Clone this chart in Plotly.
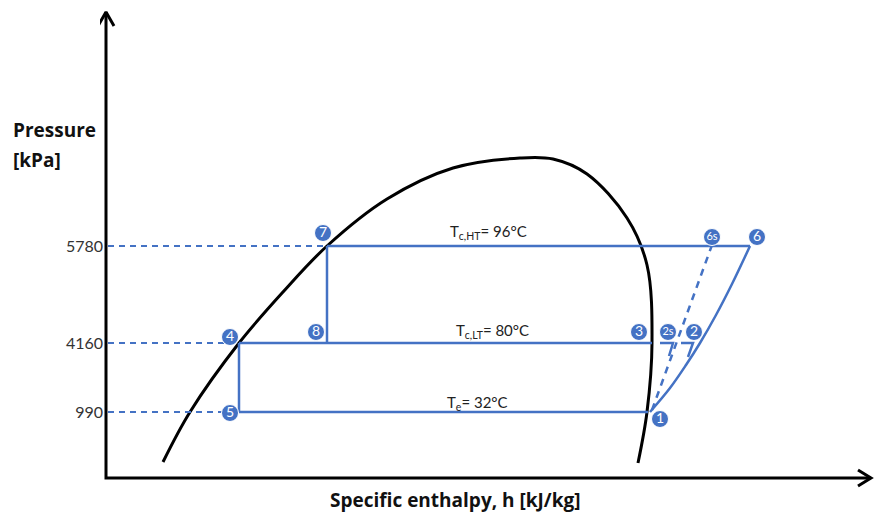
import plotly.graph_objects as go

# ---- schematic data (h in schematic units, p as schematic vertical position) ----
dome_h = [163, 190, 239, 283, 327, 387, 453, 520, 553, 587, 627, 647, 652, 647, 638]
dome_p = [55, 105, 174, 225, 271, 318, 349, 359, 358, 343, 299, 252, 174, 105, 54]

p_levels = [271, 174, 105]
p_ticks = ["5780", "4160", "990"]

# isobars (h start, h end)
iso_top = [327, 750]
iso_mid = [239, 652]
iso_low = [239, 648]

# vertical throttling lines
v78_h = [327, 327]
v45_h = [239, 239]

# compression 1 -> 6 (real) and 1 -> 6s (isentropic)
comp_h = [650, 670, 686, 700, 716, 732, 750]
comp_p = [105, 129, 152, 174, 202, 233, 271]
comps_h = [652, 712]
comps_p = [107, 272]

# small stubs at intermediate pressure (2s, 2)
stub2s_h = [660, 673, 669]
stub2s_p = [174, 174, 161]
stub2_h = [681, 693, 688]
stub2_p = [174, 174, 160]

# reference dashed lines from axis
ref_start = 108
ref_end = [327, 239, 229]

# axes (origin, ends)
axis_h = [106, 106, 871]
axis_p = [505, 39, 39]
arrow_up_h = [98, 106, 114]
arrow_up_p = [491, 505, 491]
arrow_right_h = [858, 871, 858]
arrow_right_p = [47, 39, 31]

# state points
state_lbl = ["7", "8", "4", "5", "3", "2s", "2", "1", "6s", "6"]
state_h = [323, 316, 230, 230, 639, 668, 694, 660, 712, 757]
state_p = [284, 185, 180, 104, 185, 185, 185, 98, 280, 280]

# isotherm labels
temp_text = ["T<sub>c,HT</sub>= 96°C", "T<sub>c,LT</sub>= 80°C", "T<sub>e</sub>= 32°C"]
temp_h = [488, 492, 477]
temp_p = [285, 186, 114]

BLUE = "#4472C4"
W, H = 877, 517
ML = 100
fig = go.Figure()

def line(x, y, color=BLUE, width=2, dash="solid", shape="linear"):
    fig.add_trace(go.Scatter(x=x, y=y, mode="lines", hoverinfo="skip",
                             line=dict(color=color, width=width, dash=dash, shape=shape)))

# axes with arrow heads
line(axis_h, axis_p, color="black", width=3)
line(arrow_up_h, arrow_up_p, color="black", width=3)
line(arrow_right_h, arrow_right_p, color="black", width=3)

# dome
line(dome_h, dome_p, color="black", width=3, shape="spline")

# reference dashed lines
for lv, e in zip(p_levels, ref_end):
    line([ref_start, e], [lv, lv], dash="6px,5px")

# cycle lines
line(iso_top, [p_levels[0]] * 2, width=2.5)
line(iso_mid, [p_levels[1]] * 2, width=2.5)
line(iso_low, [p_levels[2]] * 2, width=2.5)
line(v78_h, [p_levels[0], p_levels[1]], width=2.5)
line(v45_h, [p_levels[1], p_levels[2]], width=2.5)
line(comp_h, comp_p, width=2.5, shape="spline")
line(comps_h, comps_p, width=2.5, dash="7px,6px")
line(stub2s_h, stub2s_p, width=2.5)
line(stub2_h, stub2_p, width=2.5)

# state markers
sizes = [11 if len(s) > 1 else 14 for s in state_lbl]
fig.add_trace(go.Scatter(x=state_h, y=state_p, mode="markers+text", text=state_lbl,
                         textposition="middle center", hoverinfo="skip",
                         textfont=dict(color="white", size=sizes, family="Lato"),
                         marker=dict(size=17, color=BLUE, line=dict(color="white", width=1))))

# isotherm labels
for t, h, p in zip(temp_text, temp_h, temp_p):
    fig.add_annotation(x=h, y=p, text=t, showarrow=False,
                       font=dict(family="Lato", size=15, color="#222"))

# axis titles (paper coordinates)
def px_to_paper(px, py):
    return (px - ML) / (W - ML), (H - py) / H

for txt, (pxx, pyy), anchor in [("<b>Pressure</b>", (11, 130), "left"),
                                ("<b>[kPa]</b>", (11, 160), "left"),
                                ("<b>Specific enthalpy, h [kJ/kg]</b>", (455, 500), "center")]:
    xp, yp = px_to_paper(pxx, pyy)
    fig.add_annotation(x=xp, y=yp, xref="paper", yref="paper", text=txt, showarrow=False,
                       xanchor=anchor, yanchor="middle",
                       font=dict(family="Open Sans", size=19, color="#111"))

fig.update_layout(
    width=W, height=H, showlegend=False,
    margin=dict(l=ML, r=0, t=0, b=0),
    paper_bgcolor="white", plot_bgcolor="white",
    xaxis=dict(range=[ML, W], showgrid=False, zeroline=False, showline=False,
               showticklabels=False, ticks=""),
    yaxis=dict(range=[0, H], showgrid=False, zeroline=False, showline=False,
               tickvals=p_levels, ticktext=p_ticks, ticks="", ticklabelstandoff=-4,
               tickfont=dict(family="Lato", size=16, color="#333")),
)

fig.write_html("out.html")
